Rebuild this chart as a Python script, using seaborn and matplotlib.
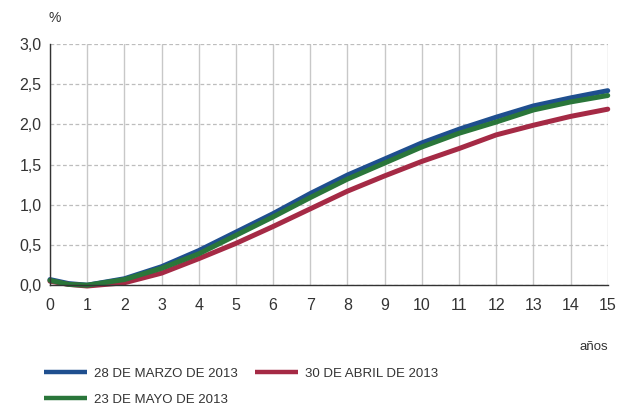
import matplotlib
matplotlib.use('Agg')
import matplotlib.pyplot as plt
from matplotlib.lines import Line2D
import numpy as np
import pandas as pd
import seaborn as sns

# zero-coupon forward curve readings (years vs %)
years = [0, 0.5, 1, 2, 3, 4, 5, 6, 7, 8, 9, 10, 11, 12, 13, 14, 15]
marzo = [0.07, 0.02, 0.00, 0.08, 0.23, 0.43, 0.66, 0.89, 1.14, 1.37, 1.57, 1.77, 1.94, 2.09, 2.23, 2.33, 2.42]
abril = [0.05, 0.01, -0.01, 0.03, 0.15, 0.33, 0.52, 0.73, 0.95, 1.17, 1.36, 1.54, 1.70, 1.87, 1.99, 2.10, 2.19]
mayo = [0.06, 0.01, 0.00, 0.07, 0.21, 0.39, 0.62, 0.85, 1.09, 1.32, 1.52, 1.72, 1.89, 2.03, 2.18, 2.28, 2.36]

labels = ['28 DE MARZO DE 2013', '30 DE ABRIL DE 2013', '23 DE MAYO DE 2013']
colors = {'28 DE MARZO DE 2013': '#1f4f8f',
          '30 DE ABRIL DE 2013': '#a52a45',
          '23 DE MAYO DE 2013': '#2a763a'}

df = pd.concat([
    pd.DataFrame({'años': years, 'valor': marzo, 'serie': labels[0]}),
    pd.DataFrame({'años': years, 'valor': abril, 'serie': labels[1]}),
    pd.DataFrame({'años': years, 'valor': mayo, 'serie': labels[2]}),
])

sns.set_style('white')
plt.rcParams['font.family'] = ['Liberation Sans', 'DejaVu Sans']
txt = '#333333'

fig = plt.figure(figsize=(6.17, 4.08), dpi=100)
ax = fig.add_axes([0.081, 0.301, 0.904, 0.591])

sns.lineplot(data=df, x='años', y='valor', hue='serie', hue_order=labels,
             palette=colors, linewidth=3.6, ax=ax, legend=False, clip_on=False)

ax.set_xlim(0, 15)
ax.set_ylim(0, 3)
ax.set_xticks(range(0, 16))
yt = np.arange(0, 3.01, 0.5)
ax.set_yticks(yt)
ax.set_yticklabels([f'{v:.1f}'.replace('.', ',') for v in yt])
ax.set_xlabel('')
ax.set_ylabel('')

ax.grid(axis='x', color='#c8c8c8', linewidth=1, linestyle='-')
ax.grid(axis='y', color='#bdbdbd', linewidth=0.9, linestyle=(0, (3, 2)))
ax.set_axisbelow(True)

for s in ['top', 'right']:
    ax.spines[s].set_visible(False)
for s in ['left', 'bottom']:
    ax.spines[s].set_color('#333333')
    ax.spines[s].set_linewidth(1)

ax.tick_params(axis='x', direction='out', length=5, width=1, color='#333333',
               labelsize=11.5, labelcolor=txt, pad=4)
ax.tick_params(axis='y', length=0, labelsize=11.5, labelcolor=txt, pad=6)

fig.text(0.089, 0.955, '%', fontsize=10, color=txt, ha='center', va='center')
fig.text(0.985, 0.15, 'años', fontsize=9.5, color=txt, ha='right', va='center')

# legend: March and May in the first column, April in the second
order = [labels[0], labels[2], labels[1]]
proxies = [Line2D([], [], color=colors[l], linewidth=3.2, solid_capstyle='butt')
           for l in order]
fig.legend(proxies, order, loc='upper left', bbox_to_anchor=(0.062, 0.112),
           ncol=2, frameon=False, fontsize=9.5, labelcolor=txt,
           handlelength=3.3, handletextpad=0.5, columnspacing=1.3,
           labelspacing=1.05, borderaxespad=0)

fig.savefig('out.png', dpi=100)
